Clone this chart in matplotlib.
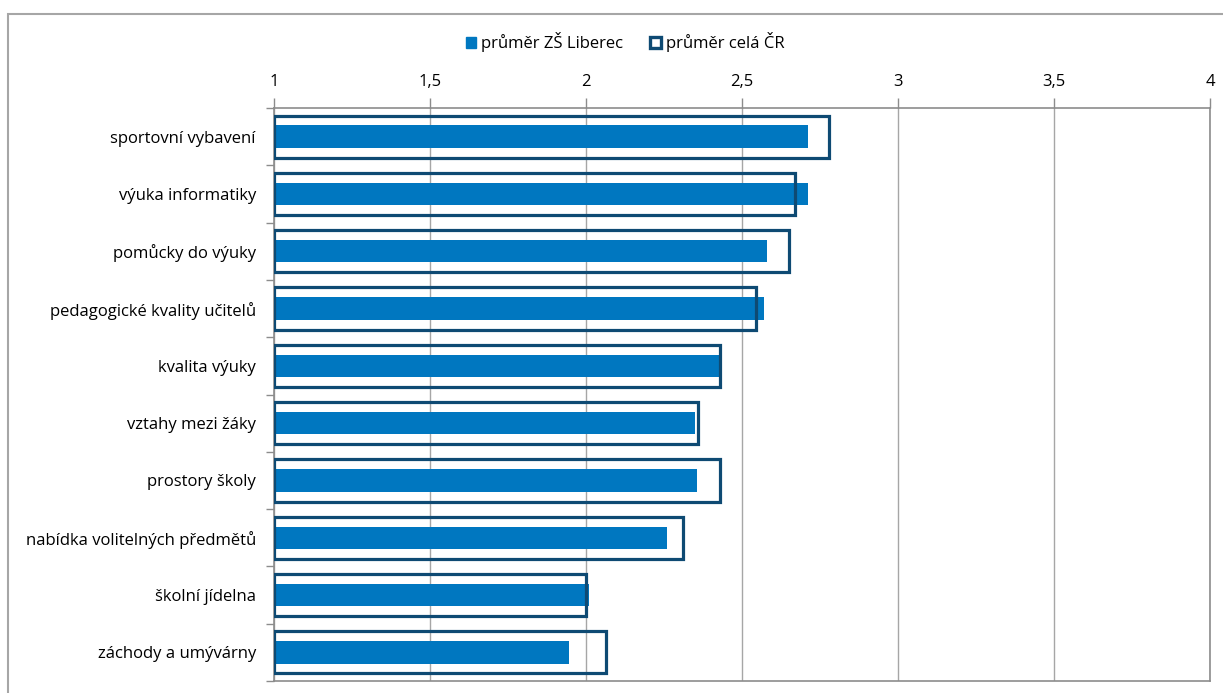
import numpy as np
import matplotlib.pyplot as plt
from matplotlib.patches import Patch, Rectangle

plt.rcParams['font.family'] = ['Open Sans', 'DejaVu Sans']

categories = ['sportovní vybavení', 'výuka informatiky', 'pomůcky do výuky',
              'pedagogické kvality učitelů', 'kvalita výuky', 'vztahy mezi žáky',
              'prostory školy', 'nabídka volitelných předmětů', 'školní jídelna',
              'záchody a umývárny']
liberec = [2.71, 2.71, 2.58, 2.57, 2.43, 2.35, 2.355, 2.26, 2.01, 1.945]
cr = [2.78, 2.67, 2.65, 2.545, 2.43, 2.36, 2.43, 2.31, 2.0, 2.065]
ticks = [1, 1.5, 2, 2.5, 3, 3.5, 4]
tick_labels = ['1', '1,5', '2', '2,5', '3', '3,5', '4']

blue = '#0077C0'
dark = '#0E4A73'
grid = '#A6A6A6'

fig = plt.figure(figsize=(12.23, 6.93), dpi=100)
ax = fig.add_axes([274 / 1223, 1 - 681 / 693, 936 / 1223, 573 / 693])

y = np.arange(len(categories))
base = ticks[0]
ax.barh(y, np.array(liberec) - base, left=base, height=0.39, color=blue, zorder=2)
ax.barh(y, np.array(cr) - base, left=base, height=0.735, fill=False,
        edgecolor=dark, linewidth=2.3, zorder=3)

ax.set_xlim(1, 4)
ax.set_ylim(len(categories) - 0.5, -0.5)
ax.set_xticks(ticks)
ax.set_xticklabels(tick_labels)
ax.xaxis.tick_top()
ax.tick_params(axis='x', direction='out', length=7, width=1, color='#8C8C8C',
               labelsize=12, pad=6)
ax.set_yticks(y)
ax.set_yticklabels(categories)
ax.set_yticks(np.arange(len(categories) + 1) - 0.5, minor=True)
ax.tick_params(axis='y', which='major', length=0, labelsize=12, pad=13)
ax.tick_params(axis='y', which='minor', length=6, width=1, color='#8C8C8C')
ax.xaxis.grid(True, color=grid, linewidth=1, zorder=0)
ax.set_axisbelow(True)
for s in ax.spines.values():
    s.set_color('#8C8C8C')
    s.set_linewidth(1.2)

# chart area border
fig.patches.append(Rectangle((8 / 1223, -0.1), 1.2, 1 - 14 / 693 + 0.1,
                             transform=fig.transFigure, fill=False,
                             edgecolor='#A6A6A6', linewidth=1.5))

handles = [Patch(facecolor=blue, edgecolor=blue),
           Patch(facecolor='white', edgecolor=dark, linewidth=2.4)]
fig.legend(handles, ['průměr ZŠ Liberec', 'průměr celá ČR'], loc='center',
           bbox_to_anchor=(625 / 1223, 1 - 42 / 693), ncol=2, frameon=False,
           fontsize=12, handlelength=0.65, handleheight=0.65, handletextpad=0.3,
           columnspacing=1.6)

fig.savefig('out.png', dpi=100)
